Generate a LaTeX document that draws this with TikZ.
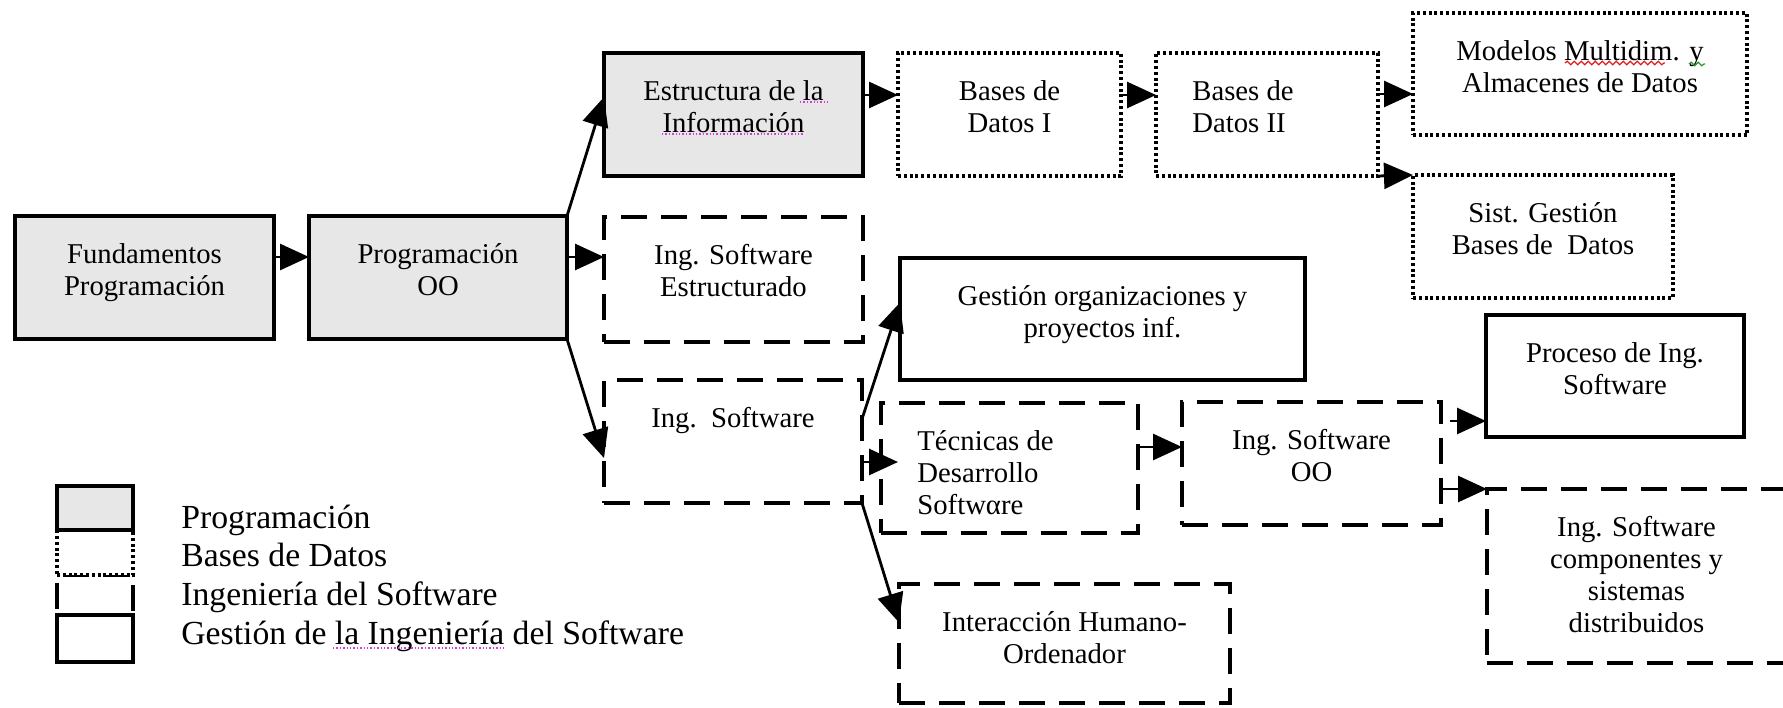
\documentclass[tikz,border=0pt]{standalone}
\usepackage{fontspec}
\setmainfont{Liberation Serif}
\usetikzlibrary{arrows.meta,decorations.pathmorphing}

\definecolor{boxgray}{RGB}{231,231,231}
\definecolor{spellred}{RGB}{225,30,30}
\definecolor{spellgreen}{RGB}{40,150,40}
\definecolor{spellmag}{RGB}{215,60,215}

\newcommand\boxfont{\fontsize{14.35pt}{16pt}\selectfont}
\newcommand\legfont{\fontsize{16.85pt}{19pt}\selectfont}

% \placebox{name}{style}{x1}{y1}{x2}{y2}: a rectangle node given by its corners (px)
\newcommand\placebox[6]{%
  \pgfmathsetmacro\bxw{0.5*(#5-#3)}%
  \pgfmathsetmacro\bxh{0.5*(#6-#4)}%
  \node[#2, minimum width=\bxw pt, minimum height=\bxh pt] (#1) at ({(#3+#5)/2},{(#4+#6)/2}) {};%
}

\tikzset{
  frame/.style={rectangle, inner sep=0pt, outer sep=0pt, line width=1.7pt},
  progbox/.style={frame, draw, fill=boxgray},
  bdbox/.style={frame, draw, fill=white, dash pattern=on 1.5pt off 1.4pt},
  isbox/.style={frame, draw, fill=white, dash pattern=on 13pt off 7pt},
  gisbox/.style={frame, draw, fill=white},
  txt/.style={inner sep=0pt, align=center, anchor=north, font=\boxfont},
  txtl/.style={inner sep=0pt, align=left, anchor=north west, font=\boxfont},
  leg/.style={inner sep=0pt, anchor=base west, font=\legfont},
  arr/.style={line width=1.4pt, -{Triangle[length=14.5pt,width=13pt]}},
  wavy/.style={line width=0.6pt, decorate, decoration={snake, amplitude=0.9pt, segment length=3.5pt}},
  dotmark/.style={spellmag, line width=0.7pt, dash pattern=on 0.7pt off 1pt},
}

\begin{document}
\begin{tikzpicture}[x=0.5pt, y=-0.5pt]
\useasboundingbox[fill=white] (0,0) rectangle (1783,707);
\clip (0,0) rectangle (1783,707);

% boxes
\placebox{fund}{progbox}{15}{216}{274}{339}
\placebox{progoo}{progbox}{309}{216}{567}{339}
\placebox{estr}{progbox}{604}{53}{863}{176}
\placebox{bd1}{bdbox}{898}{53}{1121}{176}
\placebox{bd2}{bdbox}{1156}{53}{1378}{176}
\placebox{mod}{bdbox}{1413}{13}{1747}{135}
\placebox{sgbd}{bdbox}{1413}{175}{1673}{298}
\placebox{ise}{isbox}{604}{217}{863}{342}
\placebox{gorg}{gisbox}{900}{258}{1305}{380}
\placebox{ingsw}{isbox}{604}{380}{862}{503}
\placebox{tecn}{isbox}{881}{403}{1138}{533}
\placebox{isoo}{isbox}{1182}{402}{1441}{525}
\placebox{proc}{gisbox}{1486}{315}{1744}{437}
\placebox{iscomp}{isbox}{1487}{489}{1790}{663}
\placebox{iho}{isbox}{899}{584}{1230}{703}

% box texts
\node[txt] (fundT) at ([yshift=-12.5pt]fund.north) {\strut Fundamentos\\Programación};
\node[txt] (progooT) at ([yshift=-12.5pt]progoo.north) {\strut Programación\\OO};
\node[txt] (estrT) at ([yshift=-12.5pt]estr.north) {\strut Estructura de la\\Información};
\node[txt] (bd1T) at ([yshift=-12.5pt]bd1.north) {\strut Bases de\\Datos I};
\node[txtl] (bd2T) at ([xshift=18pt,yshift=-12.5pt]bd2.north west) {\strut Bases de\\Datos II};
\node[txt] (modT) at ([yshift=-12.5pt]mod.north) {\strut Modelos Multidim. y\\Almacenes de Datos};
\node[txt] (sgbdT) at ([yshift=-12.5pt]sgbd.north) {\strut Sist. Gestión\\Bases de\ \ Datos};
\node[txt] (iseT) at ([yshift=-12.5pt]ise.north) {\strut Ing. Software\\Estructurado};
\node[txt] (gorgT) at ([yshift=-12.5pt]gorg.north) {\strut Gestión organizaciones y\\proyectos inf.};
\node[txt] (ingswT) at ([yshift=-12.5pt]ingsw.north) {\strut Ing.\ \ Software};
\node[txtl] (tecnT) at ([xshift=18pt,yshift=-12.5pt]tecn.north west) {\strut Técnicas de\\Desarrollo\\Softwαre};
\node[txt] (isooT) at ([yshift=-12.5pt]isoo.north) {\strut Ing. Software\\OO};
\node[txt] (procT) at ([yshift=-12.5pt]proc.north) {\strut Proceso de Ing.\\Software};
\node[txt] (iscompT) at ([xshift=-1pt,yshift=-12.5pt]iscomp.north) {\strut Ing. Software\\componentes y\\sistemas\\distribuidos};
\node[txt] (ihoT) at ([yshift=-12.5pt]iho.north) {\strut Interacción Humano-\\Ordenador};

% connectors
\draw[arr] ([yshift=10.25pt]fund.east) -- ([yshift=10.25pt]progoo.west);
\draw[arr] (progoo.north east) -- ([yshift=8.75pt]estr.west);
\draw[arr] ([yshift=10.25pt]progoo.east) -- ([yshift=11.25pt]ise.west);
\draw[arr] (progoo.south east) -- ([yshift=-8.25pt]ingsw.west);
\draw[arr] ([yshift=9.75pt]estr.east) -- ([yshift=9.75pt]bd1.west);
\draw[arr] ([yshift=9.75pt]bd1.east) -- ([yshift=9.75pt]bd2.west);
\draw[arr] ([yshift=10.25pt]bd2.east) -- ([yshift=-10pt]mod.west);
\draw[arr] (bd2.south east) -- (sgbd.north west);
\draw[arr] ([yshift=11.25pt]ingsw.east) -- ([yshift=8.25pt]gorg.west);
\draw[arr, shorten >=-8.5pt] ([yshift=-10.25pt]ingsw.east) -- ([yshift=3pt]tecn.west);
\draw[arr] ([yshift=10.5pt]tecn.east) -- ([yshift=8.25pt]isoo.west);
\draw[arr, shorten <=4.5pt] ([yshift=21.25pt]isoo.east) -- ([yshift=-22.5pt]proc.west);
\draw[arr] ([yshift=-12.75pt]isoo.east) -- (iscomp.north west);
\draw[arr] (ingsw.south east) -- ([yshift=10.5pt]iho.west);

% legend
\placebox{lgis}{isbox}{57}{575}{133}{615}
\placebox{lgbd}{bdbox}{57}{530}{133}{575}
\placebox{lgprog}{progbox}{57}{486}{133}{530}
\placebox{lggis}{gisbox}{57}{615}{133}{662}
\node[leg] (lgprogT) at (181,528) {Programación};
\node[leg] (lgbdT) at (181,566) {Bases de Datos};
\node[leg] (lgisT) at (181,605) {Ingeniería del Software};
\node[leg] (lggisT) at (181,644) {Gestión de la Ingeniería del Software};

% proofing marks under some words
\draw[wavy, spellred] (1565,63) -- (1665,63);
\draw[wavy, spellgreen] (1689,64) -- (1705,64);
\draw[dotmark] (800,102) -- (828,102);
\draw[dotmark] (662,134) -- (803,134);
\draw[dotmark] (333,648) -- (504,648);
\end{tikzpicture}
\end{document}
